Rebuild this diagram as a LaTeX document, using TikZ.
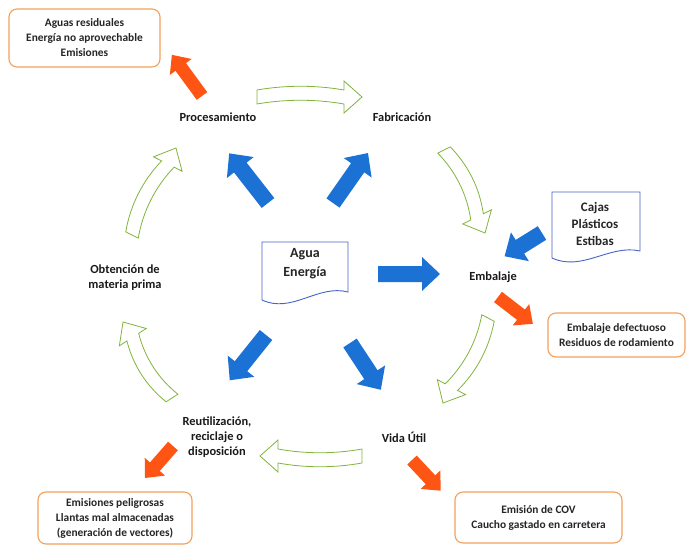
\documentclass[tikz,border=0pt]{standalone}
\usepackage{fontspec}
\setmainfont{Carlito}
\definecolor{arrowblue}{RGB}{28,114,212}
\definecolor{arroworange}{RGB}{255,85,20}
\definecolor{boxorange}{RGB}{244,160,90}
\definecolor{docblue}{RGB}{70,100,200}
\definecolor{cyclegreen}{RGB}{130,180,60}
\begin{document}
\begin{tikzpicture}[x=1pt,y=-1pt,
  lbl/.style={font=\fontsize{12.4}{15}\selectfont\bfseries, align=center, text=black!90},
  boxtxt/.style={font=\fontsize{11.4}{15}\selectfont\bfseries, align=center, text=black!85},
  outbox/.style={draw=boxorange, line width=1.1pt, rounded corners=8pt, fill=white, inner sep=0pt},
  docshape/.style={draw=docblue, line width=0.9pt, fill=white},
  % hollow curved arrow of the life cycle: length, bulge
  pics/cyclearrow/.style 2 args={code={
    \draw[draw=cyclegreen, line width=0.8pt, fill=white, line join=miter]
      (0,7) .. controls ({0.33*(#1-18)},{7+#2}) and ({0.67*(#1-18)},{7+#2}) .. ({#1-18},7)
      -- ({#1-18},16) -- (#1,0) -- ({#1-18},-16) -- ({#1-18},-7)
      .. controls ({0.67*(#1-18)},{-7+#2}) and ({0.33*(#1-18)},{-7+#2}) .. (0,-7) -- cycle;
  }},
  % solid blue input arrow: length
  pics/inarrow/.style={code={
    \fill[arrowblue] (0,-8) -- ({#1-18},-8) -- ({#1-18},-17) -- (#1,0)
      -- ({#1-18},17) -- ({#1-18},8) -- (0,8) -- cycle;
  }},
  % solid orange output arrow: length
  pics/outarrow/.style={code={
    \fill[arroworange] (0,-6.5) -- ({#1-15},-6.5) -- ({#1-15},-13.5) -- (#1,0)
      -- ({#1-15},13.5) -- ({#1-15},6.5) -- (0,6.5) -- cycle;
  }},
]
\useasboundingbox (0,0) rectangle (688,546);

% stage labels
\node[lbl] (proc) at (218,117) {Procesamiento};
\node[lbl] (fab)  at (402,117) {Fabricación};
\node[lbl] (emb)  at (493,277) {Embalaje};
\node[lbl] (vida) at (404,437) {Vida Útil};
\node[lbl] (reut) at (217,437) {Reutilización,\\reciclaje o\\disposición};
\node[lbl] (obt)  at (125,278) {Obtención de\\materia prima};

% input documents
\draw[docshape] (262,242) -- (348,242) -- (348,292)
  .. controls (318,284) and (292,314) .. (262,300) -- cycle;
\node[boxtxt, font=\fontsize{14}{19}\selectfont\bfseries] (agua) at (305,264) {Agua\\Energía};
\draw[docshape] (552,192) -- (640,192) -- (640,251)
  .. controls (610,244) and (582,272) .. (552,258) -- cycle;
\node[boxtxt, font=\fontsize{13}{17}\selectfont\bfseries] (cajas) at (595,224) {Cajas\\Plásticos\\Estibas};

% output boxes
\node[outbox, boxtxt, minimum width=151pt, minimum height=58pt] (aguasres) at (84.5,38)
  {Aguas residuales\\Energía no aprovechable\\Emisiones};
\node[outbox, boxtxt, minimum width=137pt, minimum height=44pt] (defect) at (616.5,335)
  {Embalaje defectuoso\\Residuos de rodamiento};
\node[outbox, boxtxt, minimum width=167pt, minimum height=51pt] (cov) at (538.5,517.5)
  {Emisión de COV\\Caucho gastado en carretera};
\node[outbox, boxtxt, minimum width=154pt, minimum height=52pt] (emis) at (115,518)
  {Emisiones peligrosas\\Llantas mal almacenadas\\(generación de vectores)};

% life-cycle arrows
\pic[rotate=0]      at (257,97)  {cyclearrow={105}{-5}};
\pic[rotate=-63.7]  at (444,150) {cyclearrow={92.6}{-8}};
\pic[rotate=-117.9] at (488,318) {cyclearrow={96.2}{-8}};
\pic[rotate=180]    at (362,456) {cyclearrow={102}{-5}};
\pic[rotate=122.8]  at (172,398) {cyclearrow={90.4}{-8}};
\pic[rotate=63.2]   at (132,235) {cyclearrow={97.5}{-8}};

% inputs
\pic[rotate=128]    at (268,203) {inarrow=63};
\pic[rotate=55]     at (333,203) {inarrow=61};
\pic[rotate=0]      at (378,274) {inarrow=62};
\pic[rotate=-56.6]  at (350,343) {inarrow=56};
\pic[rotate=-128.7] at (266,335) {inarrow=58};
\pic[rotate=-148.1] at (542,233) {inarrow=44};

% outputs
\pic[rotate=126.2]  at (202,96)  {outarrow=51};
\pic[rotate=-37.6]  at (498,297) {outarrow=44};
\pic[rotate=-46.9]  at (412,460) {outarrow=42};
\pic[rotate=-131.2] at (173,446) {outarrow=42.5};
\end{tikzpicture}
\end{document}
